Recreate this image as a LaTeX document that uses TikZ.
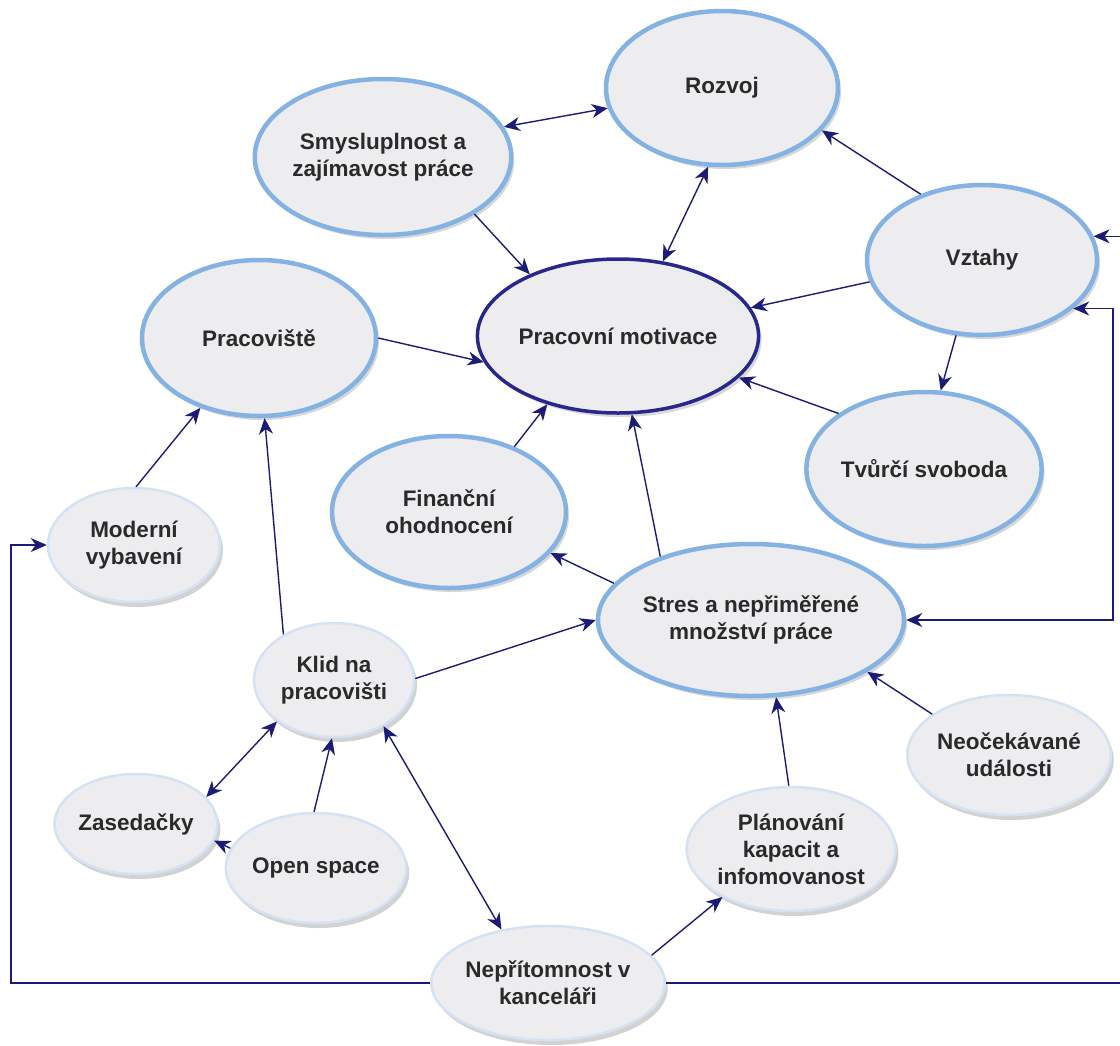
\documentclass[tikz,border=0pt]{standalone}
\usepackage{fontspec}
\setmainfont{Liberation Sans}
\usetikzlibrary{shapes.geometric,arrows.meta,shadows}
\definecolor{navy}{RGB}{28,28,118}
\definecolor{pmborder}{RGB}{40,40,140}
\definecolor{lblue}{RGB}{132,178,226}
\definecolor{nfill}{RGB}{237,237,240}
\definecolor{sborder}{RGB}{212,226,244}
\definecolor{txt}{RGB}{42,42,42}
\tikzset{
  sz/.style 2 args={minimum width=#1, minimum height=#2},
  base/.style={ellipse, fill=nfill, text=txt, align=center, inner sep=0pt,
    font=\bfseries\fontsize{22.5}{27}\selectfont},
  big/.style={base, draw=lblue, line width=4.5pt,
    drop shadow={shadow xshift=3pt, shadow yshift=-4pt, opacity=0.3, fill=gray}},
  core/.style={base, draw=pmborder, line width=3.5pt,
    drop shadow={shadow xshift=3pt, shadow yshift=-4pt, opacity=0.3, fill=gray}},
  small/.style={base, draw=sborder, line width=2.5pt,
    drop shadow={shadow xshift=3pt, shadow yshift=-5pt, opacity=0.35, fill=gray}},
  tip/.tip={Stealth[length=16pt,width=14pt,inset=5pt]},
  arr/.style={draw=navy, line width=1.4pt, -tip},
  arrb/.style={draw=navy, line width=1.4pt, tip-tip},
}
\begin{document}
\begin{tikzpicture}[x=1pt,y=1pt]
\useasboundingbox (0,0) rectangle (1120,-1045);
\clip (0,0) rectangle (1120,-1045);
\fill[white] (0,0) rectangle (1120,-1045);

\node[big, sz={232pt}{154pt}] (roz) at (722,-88) {Rozvoj};
\node[big, sz={234pt}{156pt}] (smy) at (383,-157) {Smysluplnost a\\zajímavost práce};
\node[core, sz={234pt}{154pt}] (pm) at (618,-336) {Pracovní motivace};
\node[big, sz={230pt}{150pt}] (vz) at (982,-260) {Vztahy};
\node[big, sz={234pt}{156pt}] (prac) at (259,-338) {Pracoviště};
\node[big, sz={232pt}{154pt}] (tv) at (924,-469) {Tvůrčí svoboda};
\node[big, sz={234pt}{152pt}] (fin) at (449,-512) {Finanční\\ohodnocení};
\node[small, sz={172pt}{114pt}] (mod) at (134,-545) {Moderní\\vybavení};
\node[big, sz={232pt}{152pt}] (str) at (751,-620) {Stres a nepřiměřené\\množství práce};
\node[small, sz={160pt}{114pt}] (klid) at (334,-680) {Klid na\\pracovišti};
\node[small, sz={182pt}{120pt}] (neo) at (1009,-755) {Neočekávané\\události};
\node[small, sz={134pt}{100pt}] (zas) at (136,-824) {Zasedačky};
\node[small, sz={158pt}{110pt}] (open) at (316,-868) {Open space};
\node[small, sz={196pt}{124pt}] (plan) at (791,-849) {Plánování\\kapacit a\\infomovanost};
\node[small, sz={184pt}{114pt}] (nep) at (548,-983) {Nepřítomnost v\\kanceláři};

\coordinate (lft) at (11,-983);
\coordinate (rgt) at (1140,-983);
\coordinate (rv) at (1113,-620);

\draw[arrb] (smy.14) -- (roz.190);
\draw[arr] (smy.-32) -- (pm.145);
\draw[arrb] (pm.59) -- (roz.260);
\draw[arr] (vz.133) -- (roz.-23);
\draw[arr] (vz.191) -- (pm.12);
\draw[arr] (vz.251) -- (tv.78);
\draw[arr] (tv.147) -- (pm.-19);
\draw[arr] (prac.0) -- (pm.191);
\draw[arr] (fin.45) -- (pm.224);
\draw[arr] (str.145) -- (pm.280);
\draw[arr] (str.165) -- (fin.-22);
\draw[arr] (mod.88) -- (prac.230);
\draw[arr] (klid.138) -- (prac.274);
\draw[arr] (klid.1) -- (str.180);
\draw[arrb] (klid.216) -- (zas.21);
\draw[arr] (open.92) -- (klid.268);
\draw[arr] (open.167) -- (zas.-12);
\draw[arrb] (klid.-43) -- (nep.131);
\draw[arr] (nep.15) -- (plan.215);
\draw[arr] (plan.92) -- (str.-72);
\draw[arr] (neo.152) -- (str.-24);

\draw[arr] (nep.west) -- (lft) |- (mod.west);
\draw[arr] (nep.east) -- (rgt) |- (vz.12);
\draw[arrb] (vz.-28) -| (rv) -- (str.east);
\end{tikzpicture}
\end{document}
